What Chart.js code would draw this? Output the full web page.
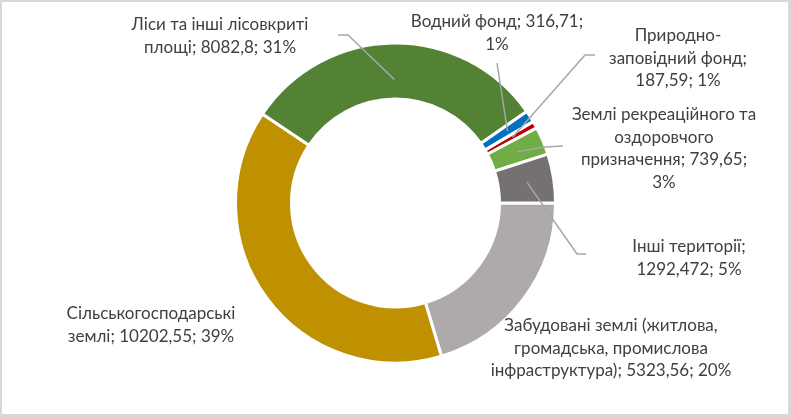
<!DOCTYPE html>
<html>
<head>
<meta charset="utf-8">
<script src="https://cdn.jsdelivr.net/npm/chart.js@4.4.1/dist/chart.umd.min.js"></script>
<style>
html,body{margin:0;padding:0;background:#fff;}
#wrap{position:relative;width:791px;height:417px;}
</style>
</head>
<body>
<div id="wrap"><canvas id="c" width="791" height="417"></canvas></div>
<script>
// Data (clockwise from 3 o'clock)
const categories = [
  "Забудовані землі (житлова, громадська, промислова інфраструктура)",
  "Сільськогосподарські землі",
  "Ліси та інші лісовкриті площі",
  "Водний фонд",
  "Природно-заповідний фонд",
  "Землі рекреаційного та оздоровчого призначення",
  "Інші території"
];
const values = [5323.56, 10202.55, 8082.8, 316.71, 187.59, 739.65, 1292.472];
const valueLabels = ["5323,56", "10202,55", "8082,8", "316,71", "187,59", "739,65", "1292,472"];
const percentLabels = ["20%", "39%", "31%", "1%", "1%", "3%", "5%"];
const colors = ["#AEAAAA", "#BF9000", "#548235", "#0070C0", "#C00000", "#70AD47", "#767171"];

// Label text lines (as wrapped in the reference)
const labelLines = [
  ["Забудовані землі (житлова,", "громадська, промислова", "інфраструктура); 5323,56; 20%"],
  ["Сільськогосподарські", "землі; 10202,55; 39%"],
  ["Ліси та інші лісовкриті", "площі; 8082,8; 31%"],
  ["Водний фонд; 316,71;", "1%"],
  ["Природно-", "заповідний фонд;", "187,59; 1%"],
  ["Землі рекреаційного та", "оздоровчого", "призначення; 739,65;", "3%"],
  ["Інші території;", "1292,472; 5%"]
];
// label layout: centre x, first baseline-centre y
const labelPos = [
  {x: 611, y: 326}, {x: 151, y: 314}, {x: 220, y: 25}, {x: 497, y: 22},
  {x: 678, y: 36}, {x: 664, y: 115}, {x: 689, y: 247}
];
// leader lines: label-side points; slice end computed from arc (fraction of ring)
const leaders = [
  null, null,
  {pts: [[338, 35], [348, 35]], f: 0.35},
  {pts: [[497, 63]], f: 0.52},
  {pts: [[595, 55], [585, 55]], f: 0.54},
  {pts: [[563, 146], [545, 147]], f: 0.5},
  {pts: [[586, 254], [577, 254]], f: 0.52}
];

const labelPlugin = {
  id: 'labels',
  beforeDraw(chart) {
    const ctx = chart.ctx;
    ctx.save();
    ctx.fillStyle = '#d9d9d9';
    ctx.fillRect(0, 0, 791, 417);
    ctx.fillStyle = '#ffffff';
    ctx.fillRect(2, 2, 791 - 5, 417 - 5);
    ctx.restore();
  },
  afterDraw(chart) {
    const ctx = chart.ctx;
    const meta = chart.getDatasetMeta(0);
    ctx.save();
    ctx.strokeStyle = '#a6a6a6';
    ctx.lineWidth = 1.5;
    meta.data.forEach((arc, i) => {
      const L = leaders[i];
      if (!L) return;
      const p = arc.getProps(['x', 'y', 'startAngle', 'endAngle', 'innerRadius', 'outerRadius'], true);
      const a = (p.startAngle + p.endAngle) / 2;
      const r = p.innerRadius + (p.outerRadius - p.innerRadius) * L.f;
      ctx.beginPath();
      ctx.moveTo(L.pts[0][0], L.pts[0][1]);
      for (let k = 1; k < L.pts.length; k++) ctx.lineTo(L.pts[k][0], L.pts[k][1]);
      ctx.lineTo(p.x + Math.cos(a) * r, p.y + Math.sin(a) * r);
      ctx.stroke();
    });
    ctx.fillStyle = '#404040';
    ctx.font = '17px Lato';
    ctx.textAlign = 'center';
    ctx.textBaseline = 'middle';
    labelLines.forEach((lines, i) => {
      lines.forEach((t, j) => {
        ctx.fillText(t, labelPos[i].x, labelPos[i].y + j * 22.5);
      });
    });
    ctx.restore();
  }
};

new Chart(document.getElementById('c'), {
  type: 'doughnut',
  data: {
    labels: categories,
    datasets: [{
      data: values,
      backgroundColor: colors,
      borderColor: '#ffffff',
      borderWidth: 3,
      hoverOffset: 0
    }]
  },
  options: {
    responsive: false,
    animation: false,
    rotation: 90,
    radius: 160,
    cutout: '65%',
    layout: {padding: {top: 0, bottom: 11, left: 0, right: 0}},
    plugins: {legend: {display: false}, tooltip: {enabled: false}}
  },
  plugins: [labelPlugin]
});
</script>
</body>
</html>
